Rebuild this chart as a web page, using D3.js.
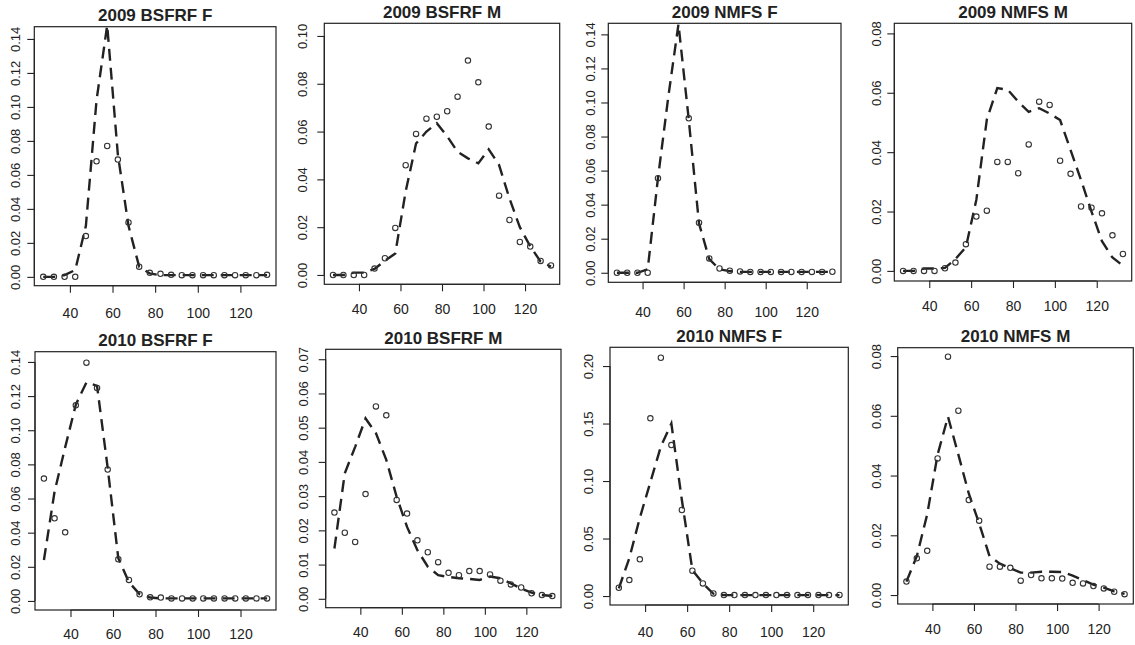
<!DOCTYPE html>
<html>
<head>
<meta charset="utf-8">
<script src="https://cdn.jsdelivr.net/npm/d3@7"></script>
<style>
  body { margin: 0; background: #fff; }
  svg text { font-family: "Liberation Sans", Arial, sans-serif; fill: #222; }
</style>
</head>
<body>
<div id="chart"></div>
<script>
// Length bin midpoints (x values shared by every panel)
const lengthBins = [27.5, 32.5, 37.5, 42.5, 47.5, 52.5, 57.5, 62.5, 67.5, 72.5, 77.5,
                    82.5, 87.5, 92.5, 97.5, 102.5, 107.5, 112.5, 117.5, 122.5, 127.5, 132.5];
const xTicks = [40, 60, 80, 100, 120];

const titles = ["2009 BSFRF F", "2009 BSFRF M", "2009 NMFS F", "2009 NMFS M",
                "2010 BSFRF F", "2010 BSFRF M", "2010 NMFS F", "2010 NMFS M"];

// Observed proportions (open circles); null = off the plot
const obs2009BsfrfF = [0, 0, 0, 0, 0.024, 0.068, 0.077, 0.069, 0.032, 0.006, 0.0024,
                       0.0018, 0.0012, 0.001, 0.001, 0.001, 0.001, 0.001, 0.001, 0.001, 0.001, 0.0012];
const obs2009BsfrfM = [0, 0, 0, 0, 0.0027, 0.007, 0.0197, 0.0459, 0.059, 0.0654, 0.0662,
                       0.0685, 0.0746, 0.0897, 0.0806, 0.0621, 0.0332, 0.023, 0.0138, 0.0119, 0.0059, 0.004];
const obs2009NmfsF = [0, 0, 0, 0, 0.0555, null, null, 0.0907, 0.0294, 0.0084, 0.0025,
                      0.0012, 0.0008, 0.0005, 0.0005, 0.0005, 0.0005, 0.0005, 0.0005, 0.0005, 0.0005, 0.0006];
const obs2009NmfsM = [0, 0, 0, 0, 0.0009, 0.0028, 0.009, 0.0183, 0.0203, 0.0367, 0.0367,
                      0.0329, 0.0426, 0.057, 0.0559, 0.0371, 0.0327, 0.0217, 0.0213, 0.0194, 0.012, 0.0057];
const obs2010BsfrfF = [0.0717, 0.0484, 0.0402, 0.1146, 0.1396, 0.1248, 0.077, 0.0244, 0.0123, 0.0039, 0.0021,
                       0.002, 0.0015, 0.0015, 0.0015, 0.0015, 0.0015, 0.0015, 0.0015, 0.0015, 0.0015, 0.0015];
const obs2010BsfrfM = [0.0252, 0.0193, 0.0166, 0.0306, 0.0562, 0.0536, 0.0289, 0.0249, 0.0171, 0.0136, 0.0107,
                       0.0076, 0.0069, 0.0081, 0.0081, 0.0071, 0.0053, 0.0042, 0.0033, 0.0016, 0.0011, 0.0008];
const obs2010NmfsF = [0.0072, 0.0139, 0.0319, 0.1545, 0.2072, 0.1313, 0.0748, 0.022, 0.011, 0.0023, 0.0008,
                      0.0008, 0.0008, 0.0008, 0.0008, 0.0008, 0.0008, 0.0008, 0.0008, 0.0008, 0.0008, 0.001];
const obs2010NmfsM = [0.0045, 0.0123, 0.0148, 0.0457, 0.0798, 0.0617, 0.0318, 0.0249, 0.0095, 0.0095, 0.0091,
                      0.0048, 0.0067, 0.0056, 0.0056, 0.0055, 0.0041, 0.0039, 0.003, 0.0022, 0.0011, 0.0003];

// Fitted proportions (dashed lines)
const fit2009BsfrfF = [0, 0, 0.001, 0.004, 0.03, 0.104, 0.148, 0.072, 0.03, 0.006, 0.002,
                       0.001, 0.001, 0.001, 0.001, 0.001, 0.001, 0.001, 0.001, 0.001, 0.001, 0.001];
const fit2009BsfrfM = [0, 0, 0.001, 0.001, 0.0025, 0.006, 0.009, 0.035, 0.055, 0.06, 0.0635,
                       0.058, 0.0516, 0.0488, 0.0467, 0.0526, 0.046, 0.032, 0.02, 0.012, 0.0056, 0.0035];
const fit2009NmfsF = [0, 0, 0, 0.002, 0.0555, 0.103, 0.146, 0.09, 0.029, 0.008, 0.002,
                      0.001, 0.0005, 0.0005, 0.0005, 0.0005, 0.0005, 0.0005, 0.0005, 0.0005, 0.0005, 0.0005];
const fit2009NmfsM = [0, 0, 0.0008, 0.0008, 0.001, 0.004, 0.008, 0.024, 0.051, 0.0616, 0.061,
                      0.057, 0.0536, 0.0548, 0.053, 0.0508, 0.0407, 0.0306, 0.02, 0.01, 0.0045, 0.0018];
const fit2010BsfrfF = [0.024, 0.064, 0.09, 0.115, 0.128, 0.126, 0.078, 0.025, 0.011, 0.004, 0.002,
                       0.0015, 0.0015, 0.0015, 0.0015, 0.0015, 0.0015, 0.0015, 0.0015, 0.0015, 0.0015, 0.0015];
const fit2010BsfrfM = [0.0147, 0.0367, 0.0444, 0.0527, 0.0484, 0.0406, 0.0298, 0.021, 0.0142, 0.0094, 0.0069,
                       0.0064, 0.006, 0.0058, 0.0055, 0.0065, 0.006, 0.0045, 0.003, 0.0018, 0.0011, 0.0008];
const fit2010NmfsF = [0.0067, 0.033, 0.068, 0.099, 0.13, 0.15, 0.0835, 0.0226, 0.011, 0.002, 0.0008,
                      0.0008, 0.0008, 0.0008, 0.0008, 0.0008, 0.0008, 0.0008, 0.0008, 0.0008, 0.0008, 0.0008];
const fit2010NmfsM = [0.0045, 0.013, 0.027, 0.047, 0.0597, 0.047, 0.034, 0.024, 0.013, 0.0105, 0.009,
                      0.0075, 0.0075, 0.0078, 0.0078, 0.0077, 0.0065, 0.005, 0.0035, 0.0025, 0.0012, 0.0004];

// Y tick labels per panel
const yTicks2009BsfrfF = ["0.00", "0.02", "0.04", "0.06", "0.08", "0.10", "0.12", "0.14"];
const yTicks2009BsfrfM = ["0.00", "0.02", "0.04", "0.06", "0.08", "0.10"];
const yTicks2009NmfsF = ["0.00", "0.02", "0.04", "0.06", "0.08", "0.10", "0.12", "0.14"];
const yTicks2009NmfsM = ["0.00", "0.02", "0.04", "0.06", "0.08"];
const yTicks2010BsfrfF = ["0.00", "0.02", "0.04", "0.06", "0.08", "0.10", "0.12", "0.14"];
const yTicks2010BsfrfM = ["0.00", "0.01", "0.02", "0.03", "0.04", "0.05", "0.06", "0.07"];
const yTicks2010NmfsF = ["0.00", "0.05", "0.10", "0.15", "0.20"];
const yTicks2010NmfsM = ["0.00", "0.02", "0.04", "0.06", "0.08"];

// Axis limits as drawn
const xLimits = [23.3, 136.7];
const yLimits = [[-0.0052, 0.1472], [-0.0039, 0.1053], [-0.0056, 0.1465], [-0.0034, 0.0834],
                 [-0.0053, 0.146], [-0.0026, 0.0729], [-0.0078, 0.2163], [-0.003, 0.0828]];

// Plot boxes [left, top, right, bottom] in page pixels, and label offsets
const boxes = [[34.3, 26.7, 276, 285.7], [324.3, 23.3, 559.7, 284.3],
               [608.3, 23.3, 841, 282.3], [894.3, 23.3, 1131.7, 281],
               [35, 351.7, 276, 610], [325.7, 349.3, 561, 607.7],
               [610, 347.3, 848.3, 605], [897.7, 347.7, 1133.3, 604]];
const xLabelGap = [27.5, 24.5, 30, 24.5, 23.5, 24, 26.5, 24.5];
const yLabelGap = [19.3, 22, 18.3, 17.6, 20, 22.4, 21.7, 21];

const obsList = [obs2009BsfrfF, obs2009BsfrfM, obs2009NmfsF, obs2009NmfsM,
                 obs2010BsfrfF, obs2010BsfrfM, obs2010NmfsF, obs2010NmfsM];
const fitList = [fit2009BsfrfF, fit2009BsfrfM, fit2009NmfsF, fit2009NmfsM,
                 fit2010BsfrfF, fit2010BsfrfM, fit2010NmfsF, fit2010NmfsM];
const yTickList = [yTicks2009BsfrfF, yTicks2009BsfrfM, yTicks2009NmfsF, yTicks2009NmfsM,
                   yTicks2010BsfrfF, yTicks2010BsfrfM, yTicks2010NmfsF, yTicks2010NmfsM];

const width = 1135;
const height = 645;
const ink = "#222";

const svg = d3.create("svg")
    .attr("width", width)
    .attr("height", height);
document.getElementById("chart").append(svg.node());

titles.forEach((title, p) => {
    const [left, top, right, bottom] = boxes[p];

    const x = d3.scaleLinear().domain(xLimits).range([left, right]);
    const y = d3.scaleLinear().domain(yLimits[p]).range([bottom, top]);

    const g = svg.append("g");

    // clip to the plot region, like base R does
    g.append("clipPath")
        .attr("id", "clip" + p)
        .append("rect")
        .attr("x", left).attr("y", top)
        .attr("width", right - left).attr("height", bottom - top);

    // Title
    g.append("text")
        .attr("x", (left + right) / 2)
        .attr("y", top - 5.5)
        .attr("text-anchor", "middle")
        .style("font-size", "17px")
        .style("font-weight", "bold")
        .text(title);

    // X axis
    const gx = g.append("g")
        .attr("transform", `translate(0,${bottom})`)
        .call(d3.axisBottom(x).tickValues(xTicks).tickSize(7).tickSizeOuter(0));
    gx.select(".domain").attr("d", `M${x(xTicks[0])},0H${x(xTicks[xTicks.length - 1])}`);
    gx.selectAll("line, path").attr("stroke", ink).attr("stroke-width", 1.1);
    gx.selectAll("text")
        .attr("y", xLabelGap[p])
        .attr("dy", null)
        .attr("dominant-baseline", "central")
        .style("font-size", "14px")
        .attr("fill", ink);

    // Y axis (labels parallel to the axis)
    const tickVals = yTickList[p].map(Number);
    const gy = g.append("g")
        .attr("transform", `translate(${left},0)`)
        .call(d3.axisLeft(y).tickValues(tickVals).tickSize(7).tickSizeOuter(0)
            .tickFormat((d, i) => yTickList[p][i]));
    gy.select(".domain").attr("d", `M0,${y(tickVals[0])}V${y(tickVals[tickVals.length - 1])}`);
    gy.selectAll("line, path").attr("stroke", ink).attr("stroke-width", 1.1);
    gy.selectAll("text")
        .attr("x", null).attr("dy", null)
        .attr("transform", `translate(${-yLabelGap[p]},0) rotate(-90)`)
        .attr("text-anchor", "middle")
        .attr("dominant-baseline", "central")
        .style("font-size", "13px")
        .attr("fill", ink);

    // Box
    g.append("rect")
        .attr("x", left).attr("y", top)
        .attr("width", right - left).attr("height", bottom - top)
        .attr("fill", "none")
        .attr("stroke", ink)
        .attr("stroke-width", 1.2);

    const plot = g.append("g").attr("clip-path", `url(#clip${p})`);

    // Fitted dashed line
    const line = d3.line()
        .x((d, i) => x(lengthBins[i]))
        .y(d => y(d));
    plot.append("path")
        .datum(fitList[p])
        .attr("d", line)
        .attr("fill", "none")
        .attr("stroke", ink)
        .attr("stroke-width", 2.4)
        .attr("stroke-dasharray", "12,7");

    // Observed points
    plot.selectAll("circle")
        .data(obsList[p].map((v, i) => ({ x: lengthBins[i], v: v })).filter(d => d.v !== null))
        .enter()
        .append("circle")
        .attr("cx", d => x(d.x))
        .attr("cy", d => y(d.v))
        .attr("r", 2.7)
        .attr("fill", "none")
        .attr("stroke", "#333")
        .attr("stroke-width", 1.1);
});
</script>
</body>
</html>
